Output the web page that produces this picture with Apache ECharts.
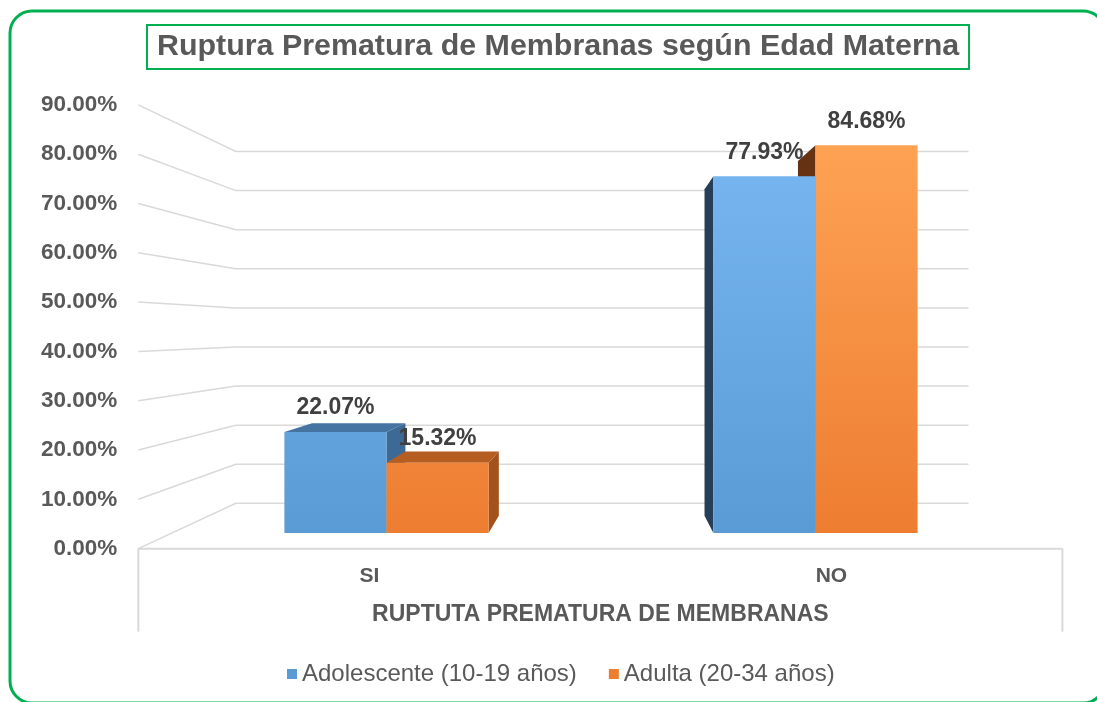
<!DOCTYPE html>
<html>
<head>
<meta charset="utf-8">
<title>Ruptura Prematura de Membranas</title>
<script src="https://cdn.jsdelivr.net/npm/echarts@6/dist/echarts.min.js"></script>
<style>
  html, body { margin: 0; padding: 0; background: #fff; }
  #main { width: 1097px; height: 702px; }
</style>
</head>
<body>
<div id="main"></div>
<script>
  // datos del grafico
  var categorias = ['SI', 'NO'];
  var adolescente = [22.07, 77.93];
  var adulta = [15.32, 84.68];
  var nombres = ['Adolescente (10-19 años)', 'Adulta (20-34 años)'];
  var ticks = [0, 10, 20, 30, 40, 50, 60, 70, 80, 90];

  var W = 1097, H = 702;
  var fuente = '"Liberation Sans", Arial, sans-serif';

  // plano frontal de las barras
  var gridBarras = {left: 172, right: 67, top: 121, bottom: 169};
  var anchoBarra = 0.238; // fraccion de la banda por barra

  // vista 3D: punto de fuga y escalas de profundidad
  var vx = 609, vy = 330;
  var sFrente = 1.077, sFondoBarra = 0.915, sPared = 0.854;
  function proy(x, y, s) { return [vx + s * (x - vx), vy + s * (y - vy)]; }

  // plano de las etiquetas de los ejes (delante de las barras)
  var pIzqSup = proy(gridBarras.left, gridBarras.top, sFrente);
  var pDerInf = proy(W - gridBarras.right, H - gridBarras.bottom, sFrente);
  var gridEtiquetas = {left: pIzqSup[0], top: pIzqSup[1], right: W - pDerInf[0], bottom: H - pDerInf[1]};

  var colores = [
    {base: '#5B9BD5', frente: ['#79B8F2', '#5B9BD5'], tope: '#4574A2', der: '#3C6A95', izq: '#243F57'},
    {base: '#ED7D31', frente: ['#FFA456', '#ED7D31'], tope: '#B65D22', der: '#A4521C', izq: '#653313'}
  ];

  // orden de pintado: primero las barras mas lejanas al punto de fuga
  var series = [adolescente, adulta];
  var datosBarras = [];
  var anchoPlot = W - gridBarras.left - gridBarras.right;
  var banda = anchoPlot / categorias.length;
  categorias.forEach(function (c, i) {
    series.forEach(function (s, j) {
      var cx = gridBarras.left + banda * (i + 0.5) + (j - 0.5) * banda * anchoBarra;
      datosBarras.push({value: [i, s[i], j], dist: Math.abs(cx - vx)});
    });
  });
  datosBarras.sort(function (a, b) { return b.dist - a.dist; });
  datosBarras = datosBarras.map(function (d) { return d.value; });

  var chart = echarts.init(document.getElementById('main'));

  function lineaGris(a, b) {
    return {type: 'line', shape: {x1: a[0], y1: a[1], x2: b[0], y2: b[1]},
      style: {stroke: '#D9D9D9', lineWidth: 2}};
  }

  var option = {
    backgroundColor: '#fff',
    animation: false,
    graphic: [{
      type: 'rect', silent: true, z: -10,
      shape: {x: 10, y: 11, width: 1095, height: 692, r: 22},
      style: {fill: null, stroke: '#00B050', lineWidth: 3}
    }],
    title: {
      text: 'Ruptura Prematura de Membranas según Edad Materna',
      left: 147, top: 25,
      padding: [7, 10, 7, 10],
      borderColor: '#00B050', borderWidth: 2,
      textStyle: {fontFamily: fuente, fontWeight: 'bold', fontSize: 30.4, color: '#595959'}
    },
    legend: {
      data: nombres,
      left: 282, top: 657,
      icon: 'rect', itemWidth: 10, itemHeight: 10, itemGap: 32,
      textStyle: {fontFamily: fuente, fontSize: 24, color: '#595959'}
    },
    grid: [
      {left: gridBarras.left, right: gridBarras.right, top: gridBarras.top, bottom: gridBarras.bottom},
      {left: gridEtiquetas.left, right: gridEtiquetas.right, top: gridEtiquetas.top, bottom: gridEtiquetas.bottom}
    ],
    xAxis: [
      {type: 'category', gridIndex: 0, data: categorias, show: false},
      {
        type: 'category', gridIndex: 1, data: categorias,
        axisLine: {show: false}, axisTick: {show: false},
        axisLabel: {margin: 17, fontFamily: fuente, fontWeight: 'bold', fontSize: 21, color: '#595959'},
        name: 'RUPTUTA PREMATURA DE MEMBRANAS',
        nameLocation: 'middle', nameGap: 55,
        nameTextStyle: {fontFamily: fuente, fontWeight: 'bold', fontSize: 23, color: '#595959'}
      }
    ],
    yAxis: [
      {type: 'value', gridIndex: 0, min: 0, max: 90, interval: 10, show: false},
      {
        type: 'value', gridIndex: 1, min: 0, max: 90, interval: 10,
        axisLine: {show: false}, axisTick: {show: false}, splitLine: {show: false},
        axisLabel: {
          margin: 21, fontFamily: fuente, fontWeight: 'bold', fontSize: 22.5, color: '#595959',
          formatter: function (v) { return v.toFixed(2) + '%'; }
        }
      }
    ],
    series: [
      // paredes, lineas de division y suelo
      {
        type: 'custom', z: 1, silent: true,
        xAxisIndex: 0, yAxisIndex: 0,
        data: ticks.map(function (t) { return [0, t]; }),
        renderItem: function (params, api) {
          var v = api.value(1);
          var cs = params.coordSys;
          var y = api.coord([0, v])[1];
          var xl = cs.x, xr = cs.x + cs.width;
          var pts = [proy(xl, y, sFrente), proy(xl, y, sPared), proy(xr, y, sPared)];
          var hijos = [{type: 'polyline', shape: {points: pts},
            style: {stroke: '#D9D9D9', lineWidth: 1.5, fill: null}}];
          if (v === 0) {
            var a = proy(xl, y, sFrente), b = proy(xr, y, sFrente);
            hijos.push(lineaGris(a, b));
            hijos.push(lineaGris(a, [a[0], a[1] + 83]));
            hijos.push(lineaGris(b, [b[0], b[1] + 83]));
          }
          return {type: 'group', children: hijos};
        }
      },
      // barras 3D
      {
        type: 'custom', z: 3, silent: true,
        xAxisIndex: 0, yAxisIndex: 0,
        data: datosBarras,
        renderItem: function (params, api) {
          var ci = api.value(0), v = api.value(1), j = api.value(2);
          var cs = params.coordSys;
          var arriba = api.coord([ci, v]), abajo = api.coord([ci, 0]);
          var bw = api.size([1, 0])[0] * anchoBarra;
          var x0 = arriba[0] + (j - 1) * bw, x1 = x0 + bw;
          var yt = arriba[1], yb = abajo[1];
          var c = colores[j];
          var t0 = proy(x0, yt, sFondoBarra), t1 = proy(x1, yt, sFondoBarra);
          var b0 = proy(x0, yb, sFondoBarra), b1 = proy(x1, yb, sFondoBarra);
          var hijos = [];
          if (x0 > vx) {
            hijos.push({type: 'polygon', shape: {points: [[x0, yt], t0, b0, [x0, yb]]}, style: {fill: c.izq}});
          }
          if (x1 < vx) {
            hijos.push({type: 'polygon', shape: {points: [[x1, yt], t1, b1, [x1, yb]]}, style: {fill: c.der}});
          }
          if (yt > vy) {
            hijos.push({type: 'polygon', shape: {points: [[x0, yt], [x1, yt], t1, t0]}, style: {fill: c.tope}});
          }
          hijos.push({
            type: 'rect', shape: {x: x0, y: yt, width: bw, height: yb - yt},
            style: {fill: new echarts.graphic.LinearGradient(0, cs.y, 0, cs.y + cs.height, [
              {offset: 0, color: c.frente[0]}, {offset: 1, color: c.frente[1]}], true)}
          });
          hijos.push({
            type: 'text', z2: 100, x: (x0 + x1) / 2, y: yt - 24,
            style: {text: v.toFixed(2) + '%', fill: '#404040', align: 'center', verticalAlign: 'middle',
              font: 'bold 23px ' + fuente}
          });
          return {type: 'group', children: hijos};
        }
      },
      // series solo para la leyenda
      {type: 'bar', name: nombres[0], data: [], itemStyle: {color: colores[0].base}},
      {type: 'bar', name: nombres[1], data: [], itemStyle: {color: colores[1].base}}
    ]
  };

  chart.setOption(option);
</script>
</body>
</html>
